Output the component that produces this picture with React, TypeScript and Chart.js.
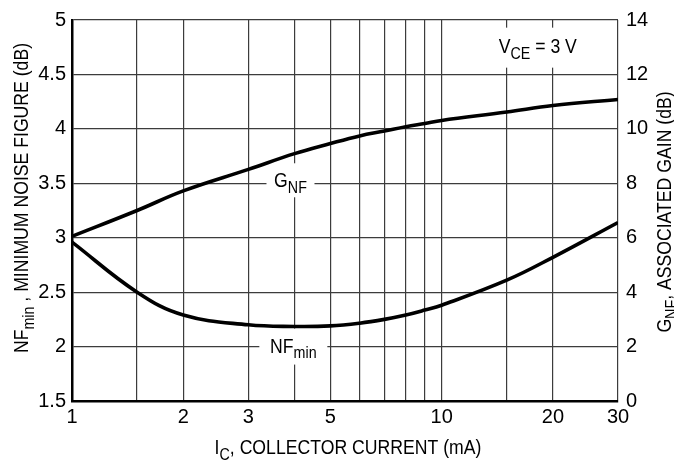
import React, { useEffect, useRef } from "react";
import { Chart, registerables } from "chart.js";

Chart.register(...registerables);

// ---- data ----
const currents = [1, 1.5, 2, 3, 4, 5, 6, 7, 8, 9, 10, 15, 20, 30];
const gnfValues = [6.05, 7.0, 7.72, 8.51, 9.09, 9.46, 9.74, 9.92, 10.08, 10.2, 10.31, 10.62, 10.86, 11.08];
const nfMinValues = [2.96, 2.5, 2.29, 2.2, 2.185, 2.19, 2.215, 2.25, 2.29, 2.335, 2.38, 2.61, 2.82, 3.14];
const xGridValues = [1, 1.5, 2, 3, 4, 5, 6, 7, 8, 9, 10, 15, 20, 30];
const xLabelValues = [1, 2, 3, 5, 10, 20, 30];

const FAMILY = "'Liberation Sans', Arial, sans-serif";
const FS = 21; // custom-drawn text size
const TICK_FS = 20;
const SX = 0.84; // horizontal condensing for custom-drawn text

type Seg = { t: string; sub?: boolean };

function segFont(size: number, sub?: boolean) {
  return `${sub ? Math.round(size * 0.8) : size}px ${FAMILY}`;
}

function measureRich(ctx: CanvasRenderingContext2D, segs: Seg[], size: number) {
  let w = 0;
  for (const s of segs) {
    ctx.font = segFont(size, s.sub);
    w += ctx.measureText(s.t).width;
  }
  return w;
}

// draws condensed rich text centred at (cx, baseline y) in the current transform
function drawRichCentered(ctx: CanvasRenderingContext2D, segs: Seg[], cx: number, y: number, size: number) {
  const w = measureRich(ctx, segs, size);
  ctx.save();
  ctx.translate(cx, y);
  ctx.scale(SX, 1);
  let x = -w / 2;
  ctx.textBaseline = "alphabetic";
  ctx.textAlign = "left";
  for (const s of segs) {
    ctx.font = segFont(size, s.sub);
    ctx.fillText(s.t, x, s.sub ? size * 0.28 : 0);
    x += ctx.measureText(s.t).width;
  }
  ctx.restore();
}

const gnfLabel: Seg[] = [{ t: "G" }, { t: "NF", sub: true }];
const nfLabel: Seg[] = [{ t: "NF" }, { t: "min", sub: true }];
const vceLabel: Seg[] = [{ t: "V" }, { t: "CE", sub: true }, { t: " = 3 V" }];
const leftTitle: Seg[] = [{ t: "NF" }, { t: "min", sub: true }, { t: " , MINIMUM NOISE FIGURE (dB)" }];
const rightTitle: Seg[] = [{ t: "G" }, { t: "NF", sub: true }, { t: ", ASSOCIATED GAIN (dB)" }];
const bottomTitle: Seg[] = [{ t: "I" }, { t: "C", sub: true }, { t: ", COLLECTOR CURRENT (mA)" }];

const annotPlugin = {
  id: "annot",
  beforeDatasetsDraw(chart: any) {
    const ctx: CanvasRenderingContext2D = chart.ctx;
    const x = chart.scales.x;
    const y = chart.scales.y;
    ctx.save();
    ctx.fillStyle = "#fff";
    const gx = x.getPixelForValue(3.9);
    const gy = y.getPixelForValue(3.5);
    ctx.fillRect(gx - 24, gy - 20, 48, 34);
    const nx = x.getPixelForValue(3.97);
    const ny = y.getPixelForValue(2.0);
    ctx.fillRect(nx - 34, ny - 18, 68, 36);
    const vx = x.getPixelForValue(18.2);
    const vy = y.getPixelForValue(4.7);
    ctx.fillRect(vx - 46, vy - 25, 92, 40);
    ctx.restore();
  },
  afterDraw(chart: any) {
    const ctx: CanvasRenderingContext2D = chart.ctx;
    const x = chart.scales.x;
    const y = chart.scales.y;
    const area = chart.chartArea;
    ctx.save();
    ctx.fillStyle = "#000";
    drawRichCentered(ctx, gnfLabel, x.getPixelForValue(3.9), y.getPixelForValue(3.5) + 3.5, FS);
    drawRichCentered(ctx, nfLabel, x.getPixelForValue(3.97), y.getPixelForValue(2.0) + 6, FS);
    drawRichCentered(ctx, vceLabel, x.getPixelForValue(18.2), y.getPixelForValue(4.7), FS);

    drawRichCentered(ctx, bottomTitle, (area.left + area.right) / 2 + 3, 454, FS);

    ctx.save();
    ctx.translate(28, 198);
    ctx.rotate(-Math.PI / 2);
    drawRichCentered(ctx, leftTitle, 0, 0, FS);
    ctx.restore();

    ctx.save();
    ctx.translate(671, 212);
    ctx.rotate(-Math.PI / 2);
    drawRichCentered(ctx, rightTitle, 0, 0, FS);
    ctx.restore();
    ctx.restore();
  },
};

export default function App() {
  const ref = useRef<HTMLCanvasElement | null>(null);
  useEffect(() => {
    if (!ref.current) return;
    const tickFont = { family: FAMILY, size: TICK_FS };
    const chart = new Chart(ref.current, {
      type: "line",
      data: {
        datasets: [
          {
            label: "GNF",
            data: currents.map((c, i) => ({ x: c, y: gnfValues[i] })),
            yAxisID: "y2",
            borderColor: "#000",
            borderWidth: 3.6,
            pointRadius: 0,
            tension: 0.4,
            fill: false,
          },
          {
            label: "NFmin",
            data: currents.map((c, i) => ({ x: c, y: nfMinValues[i] })),
            yAxisID: "y",
            borderColor: "#000",
            borderWidth: 3.6,
            pointRadius: 0,
            tension: 0.4,
            fill: false,
          },
        ],
      },
      options: {
        animation: false,
        responsive: false,
        devicePixelRatio: 1,
        layout: { padding: { top: 19, left: 0, right: 0, bottom: 0 } },
        plugins: { legend: { display: false }, tooltip: { enabled: false } },
        scales: {
          x: {
            type: "logarithmic",
            position: "bottom",
            min: 1,
            max: 30,
            afterBuildTicks: (s: any) => {
              s.ticks = xGridValues.map((v) => ({ value: v }));
            },
            afterFit: (s: any) => {
              s.height = 61;
            },
            ticks: {
              autoSkip: false,
              maxRotation: 0,
              minRotation: 0,
              padding: 4,
              color: "#000",
              font: tickFont,
              callback: (v: any) => (xLabelValues.includes(Number(v)) ? String(v) : ""),
            },
            grid: { color: "#3c3c3c", lineWidth: 1.2, drawTicks: false },
            border: { color: "#000", width: 2.5 },
          },
          y: {
            position: "left",
            min: 1.5,
            max: 5,
            afterFit: (s: any) => {
              s.width = 72;
            },
            ticks: {
              stepSize: 0.5,
              padding: 6,
              color: "#000",
              font: tickFont,
              callback: (v: any) => String(Number(v)),
            },
            grid: { color: "#3c3c3c", lineWidth: 1.2, drawTicks: false },
            border: { color: "#000", width: 2.5 },
          },
          y2: {
            position: "right",
            min: 0,
            max: 14,
            afterFit: (s: any) => {
              s.width = 56;
            },
            ticks: {
              stepSize: 2,
              padding: 8,
              color: "#000",
              font: tickFont,
              callback: (v: any) => String(Number(v)),
            },
            grid: { display: false, drawTicks: false },
            border: { display: false },
          },
        },
      },
      plugins: [annotPlugin],
    } as any);
    return () => chart.destroy();
  }, []);
  return (
    <div style={{ position: "absolute", left: 0, top: 0, width: 674, height: 462, background: "#fff" }}>
      <canvas ref={ref} width={674} height={462} style={{ display: "block", width: 674, height: 462 }} />
    </div>
  );
}
